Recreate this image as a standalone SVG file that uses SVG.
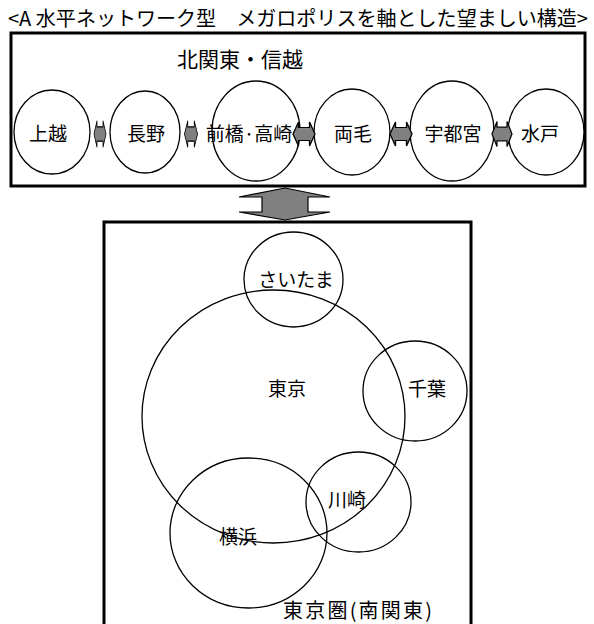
<svg xmlns="http://www.w3.org/2000/svg" width="594" height="624" viewBox="0 0 594 624">
<style>
text{font-family:"Noto Sans CJK JP","Noto Sans CJK SC",sans-serif;fill:#000;}
.t{font-size:19px;text-anchor:middle;}
.c{fill:#fff;stroke:#000;stroke-width:1.3;}
.o{fill:none;stroke:#000;stroke-width:1.3;}
.box{fill:#fff;stroke:#000;stroke-width:3;}
.ar{fill:#808080;stroke:#000;stroke-width:1.2;stroke-linejoin:miter;}
</style>
<defs>
<polygon id="lr" points="-10,0 -5,-12 -5,-6.5 5,-6.5 5,-12 10,0 5,12 5,6.5 -5,6.5 -5,12"/>
</defs>
<text x="298" y="26" font-size="20" textLength="580" lengthAdjust="spacingAndGlyphs" text-anchor="middle">&lt;A 水平ネットワーク型　メガロポリスを軸とした望ましい構造&gt;</text>
<g id="north">
<rect class="box" x="11" y="33" width="574" height="153"/>
<text x="240" y="67" font-size="21" text-anchor="middle">北関東・信越</text>
</g>
<g id="joetsu"><ellipse class="c" cx="52" cy="132" rx="38" ry="42"/><text class="t" x="48" y="141">上越</text></g>
<g id="nagano"><ellipse class="c" cx="145" cy="132" rx="35" ry="41"/><text class="t" x="146" y="141">長野</text></g>
<g id="maebashi"><ellipse class="o" cx="256" cy="131" rx="44" ry="50"/><text class="t" x="249" y="141">前橋·高崎</text></g>
<g id="ryomo"><ellipse class="c" cx="352" cy="132" rx="38" ry="43"/><text class="t" x="353" y="141">両毛</text></g>
<g id="utsunomiya"><ellipse class="c" cx="452" cy="131" rx="42" ry="50"/><text class="t" x="453" y="141">宇都宮</text></g>
<g id="mito"><ellipse class="c" cx="546" cy="132" rx="38" ry="43"/><text class="t" x="540" y="141">水戸</text></g>
<g id="connectors">
<use href="#lr" class="ar" transform="translate(100,134) scale(0.6,1.1)"/>
<use href="#lr" class="ar" transform="translate(191,134) scale(0.65,1.1)"/>
<use href="#lr" class="ar" transform="translate(304,134) scale(1.1,1)"/>
<use href="#lr" class="ar" transform="translate(401,134) scale(1.1,1)"/>
<use href="#lr" class="ar" transform="translate(502,134) scale(1,1.05)"/>
<polygon class="ar" points="285,188 239,197 262,197 262,212 239,212 285,220 330,212 308,212 308,197 330,197"/>
</g>
<g id="south">
<path class="box" d="M104,626 V222 H471 V626"/>
<text x="357.5" y="618" font-size="20" text-anchor="middle" textLength="149" lengthAdjust="spacing">東京圏(南関東)</text>
</g>
<g id="saitama"><ellipse class="o" cx="293.5" cy="279.5" rx="49.5" ry="47.5"/><text class="t" x="296" y="287">さいたま</text></g>
<g id="tokyo"><ellipse class="o" cx="273.5" cy="416.5" rx="131.5" ry="126.5"/><text class="t" x="287" y="396">東京</text></g>
<g id="chiba"><ellipse class="o" cx="415" cy="391" rx="52" ry="50"/><text class="t" x="427" y="396">千葉</text></g>
<g id="kawasaki"><ellipse class="o" cx="358.5" cy="502" rx="52.5" ry="50"/><text class="t" x="347" y="507">川崎</text></g>
<g id="yokohama"><ellipse class="o" cx="248.5" cy="533" rx="78.5" ry="75"/><text class="t" x="238" y="544">横浜</text></g>
</svg>
